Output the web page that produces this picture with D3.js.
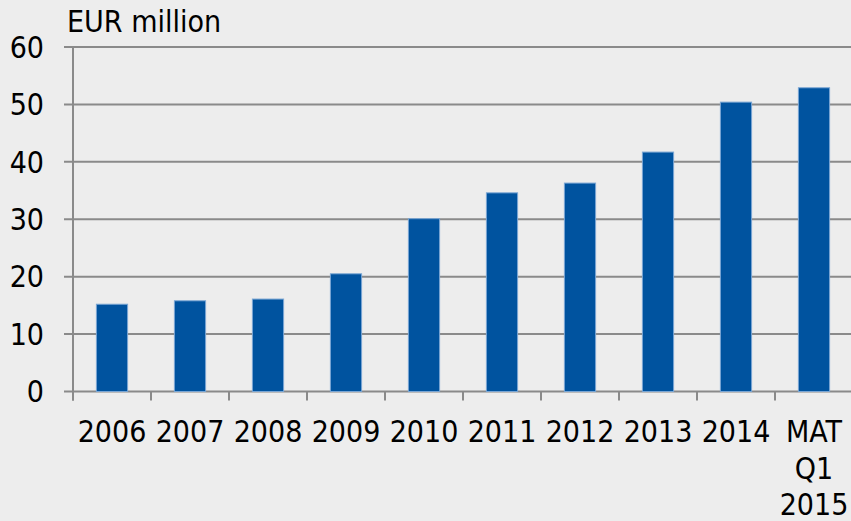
<!DOCTYPE html>
<html>
<head>
<meta charset="utf-8">
<script src="https://cdn.jsdelivr.net/npm/d3@7"></script>
<style>
  html, body { margin: 0; padding: 0; background: #ededed; }
  svg { display: block; }
  text { font-family: "DejaVu Sans Condensed", "DejaVu Sans", sans-serif; fill: #000; }
</style>
</head>
<body>
<svg id="chart" width="851" height="521"></svg>
<script>
// Annual sales, EUR million
const categories = ["2006", "2007", "2008", "2009", "2010", "2011", "2012", "2013", "2014", "MAT\nQ1\n2015"];
const values = [15.2, 15.8, 16.1, 20.5, 30.1, 34.6, 36.3, 41.7, 50.4, 52.9];
const yTicks = [0, 10, 20, 30, 40, 50, 60];
const unitLabel = "EUR million";

const svg = d3.select("#chart");
const W = 851;
const plot = { left: 73, right: 853, top: 47, bottom: 391.5 };

const x = d3.scaleBand()
  .domain(categories)
  .range([plot.left, plot.right])
  .paddingInner(0.6)
  .paddingOuter(0.3);

const y = d3.scaleLinear()
  .domain([0, 60])
  .range([plot.bottom, plot.top]);

const gridColor = "#8a8a8a";

// horizontal gridlines with short left ticks
svg.append("g")
  .selectAll("line")
  .data(yTicks)
  .join("line")
  .attr("x1", plot.left - 9)
  .attr("x2", W)
  .attr("y1", d => y(d))
  .attr("y2", d => y(d))
  .attr("stroke", gridColor)
  .attr("stroke-width", 2);

// y tick labels
svg.append("g")
  .selectAll("text")
  .data(yTicks)
  .join("text")
  .attr("x", 44)
  .attr("y", d => y(d))
  .attr("dy", "0.36em")
  .attr("text-anchor", "end")
  .attr("font-size", 30)
  .text(d => d);

// bars
svg.append("g")
  .selectAll("rect")
  .data(categories.map((c, i) => ({ c, v: values[i] })))
  .join("rect")
  .attr("x", d => x(d.c))
  .attr("width", x.bandwidth())
  .attr("y", d => y(d.v))
  .attr("height", d => y(0) - y(d.v))
  .attr("fill", "#00539f")
  .attr("stroke", "#7aa6d4")
  .attr("stroke-width", 1);

// vertical axis line
svg.append("line")
  .attr("x1", plot.left).attr("x2", plot.left)
  .attr("y1", plot.top).attr("y2", plot.bottom + 9)
  .attr("stroke", gridColor).attr("stroke-width", 2);

// category boundary ticks below the baseline
const step = x.step();
const boundaries = d3.range(categories.length + 1).map(i => plot.left + i * step);
svg.append("g")
  .selectAll("line")
  .data(boundaries)
  .join("line")
  .attr("x1", d => d).attr("x2", d => d)
  .attr("y1", plot.bottom).attr("y2", plot.bottom + 9)
  .attr("stroke", gridColor).attr("stroke-width", 2);

// category labels (multi-line where needed)
const xl = svg.append("g")
  .selectAll("text")
  .data(categories)
  .join("text")
  .attr("x", d => x(d) + x.bandwidth() / 2)
  .attr("y", 442)
  .attr("text-anchor", "middle")
  .attr("font-size", 30);
xl.each(function(d) {
  const t = d3.select(this);
  d.split("\n").forEach((line, i) => {
    t.append("tspan")
      .attr("x", x(d) + x.bandwidth() / 2)
      .attr("dy", i === 0 ? 0 : 36.5)
      .text(line);
  });
});

// unit label
svg.append("text")
  .attr("x", 67)
  .attr("y", 32)
  .attr("font-size", 30)
  .text(unitLabel);
</script>
</body>
</html>
